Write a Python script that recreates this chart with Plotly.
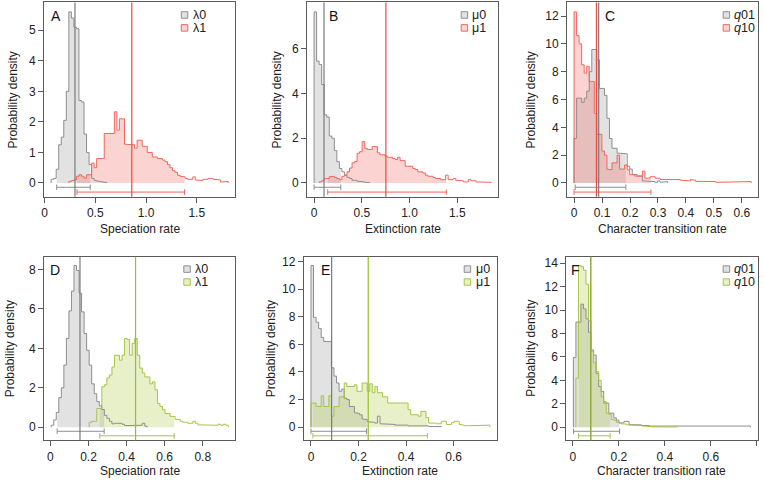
import plotly.graph_objects as go

W, H = 765, 480
N_BINS = 70

# ---------------- data ----------------
# Panel A: speciation rate, states 0/1 (top row)
A_breaks = [0.065, 1.81]
A_lambda0 = [0.12, 0.15, 0.45, 1.25, 1.5, 2.05, 3.0, 5.6, 5.4, 5.1, 5.05, 2.7, 2.65, 1.6, 1.0,
             0.6, 0.15, 0.08, 0.06, 0.05, 0.03, 0.02]
A_lambda1 = [0, 0, 0, 0, 0, 0, 0, 0.05, 0.08, 0.1, 0.22, 0.27, 0.22, 0.16, 0.27, 0.27, 0.65, 0.5,
             0.8, 0.8, 0.8, 1.62, 1.62, 1.62, 1.62, 2.33, 1.73, 2.1, 2.1, 1.27, 1.27, 1.25, 1.25,
             1.14, 1.4, 1.4, 1.2, 1.2, 1.0, 1.0, 0.85, 0.85, 0.8, 0.8, 0.75, 0.7, 0.6, 0.5, 0.4,
             0.35, 0.25, 0.22, 0.2, 0.15, 0.12, 0.12, 0.2, 0.1, 0.1, 0.08, 0.12, 0.12, 0.15, 0.15,
             0.12, 0.1, 0.1, 0.03, 0.05, 0.05]
A_means = [0.30, 0.86]
A_ci = [[0.12, 0.45], [0.32, 1.38]]
A_names = ["λ0", "λ1"]
A_xticks = [0, 0.5, 1.0, 1.5]
A_xticklabels = ["0", "0.5", "1.0", "1.5"]
A_yticks = [0, 1, 2, 3, 4, 5]
A_xlabel = "Speciation rate"

# Panel B: extinction rate (top row)
B_breaks = [0.0, 1.855]
B_mu0 = [7.65, 5.45, 5.3, 4.4, 3.05, 2.95, 2.1, 2.0, 1.45, 0.95, 0.65, 0.5, 0.35, 0.25, 0.2,
         0.12, 0.12, 0.08, 0.06, 0.05, 0.03, 0.02]
B_mu1 = [0, 0, 0.05, 0.1, 0.2, 0.2, 0.28, 0.3, 0.25, 0.2, 0.15, 0.3, 0.35, 0.5, 0.67, 0.9, 0.96,
         1.33, 1.4, 1.85, 1.55, 1.5, 1.5, 1.63, 1.63, 1.35, 1.26, 1.26, 1.2, 1.15, 1.15, 1.1,
         1.05, 1.15, 1.0, 1.0, 0.75, 0.75, 0.75, 0.65, 0.6, 0.5, 0.5, 0.45, 0.35, 0.3, 0.3, 0.25,
         0.2, 0.2, 0.15, 0.15, 0.35, 0.15, 0.15, 0.2, 0.12, 0.12, 0.1, 0.05, 0.05, 0.15, 0.1,
         0.1, 0.05, 0.05, 0.05, 0.03, 0.02, 0.03]
B_means = [0.104, 0.752]
B_ci = [[0.0, 0.28], [0.143, 1.385]]
B_names = ["μ0", "μ1"]
B_xticks = [0, 0.5, 1.0, 1.5]
B_xticklabels = ["0", "0.5", "1.0", "1.5"]
B_yticks = [0, 2, 4, 6]
B_xlabel = "Extinction rate"

# Panel C: character transition rate (top row)
C_breaks = [0.0, 0.633]
C_q01 = [3.2, 6.1, 6.1, 5.8, 6.1, 6.6, 8.0, 9.6, 9.6, 8.85, 6.8, 6.8, 6.3, 4.65, 3.2, 2.5, 2.5,
         2.15, 2.1, 2.1, 2.1, 1.2, 1.0, 0.6, 0.6, 0.5, 0.5, 0.15, 0.1, 0.15, 0.1, 0.1, 0.05,
         0.15, 0.05, 0.1, 0.1]
C_q10 = [12.3, 10.6, 10.0, 8.5, 7.9, 8.4, 7.3, 7.3, 5.0, 3.5,
         3.5, 2.3, 2.0, 1.0, 0.95, 1.45, 1.45, 2.0, 1.0, 1.0,
         1.3, 0.95, 0.6, 0.6, 0.5, 0.5, 0.5, 0.85, 0.35, 0.35,
         0.45, 0.45, 0.35, 0.35, 0.25, 0.25, 0.25, 0.3, 0.3, 0.3,
         0.3, 0.25, 0.2, 0.2, 0.15, 0.15, 0.25, 0.2, 0.12, 0.12,
         0.12, 0.1, 0.12, 0.1, 0.15, 0.1, 0.05, 0.05, 0.05, 0.05,
         0.05, 0.05, 0.05, 0.05, 0.05, 0.1, 0.05, 0.05, 0.1, 0.1]
C_means = [0.088, 0.080]
C_ci = [[0.004, 0.185], [0.0, 0.275]]
C_names = ["<i>q</i>01", "<i>q</i>10"]
C_xticks = [0, 0.1, 0.2, 0.3, 0.4, 0.5, 0.6]
C_xticklabels = ["0", "0.1", "0.2", "0.3", "0.4", "0.5", "0.6"]
C_yticks = [0, 2, 4, 6, 8, 10, 12]
C_xlabel = "Character transition rate"

# Panel D: speciation rate (bottom row)
D_breaks = [0.004, 0.934]
D_lambda0 = [0.1, 0.37, 0.75, 1.5, 2.0, 3.15, 4.5, 5.9, 6.9, 8.2, 7.95, 6.8, 5.85, 4.75, 3.9,
             3.15, 2.2, 1.7, 1.3, 1.08, 0.9, 0.6, 0.45, 0.3, 0.17, 0.2, 0.2, 0.2, 0.15, 0.08,
             0.08, 0.1, 0.1, 0.08, 0.1, 0.1, 0.2, 0.05]
D_lambda1 = [0, 0, 0, 0, 0, 0, 0, 0, 0, 0, 0, 0, 0, 0, 0,
             0.25, 0.3, 0.3, 0.95, 0.95, 2.05, 2.15, 2.5, 2.65, 3.05, 3.65, 3.65, 3.4, 3.65,
             4.5, 4.45, 3.65, 4.25, 4.5, 3.65, 3.0, 2.75, 2.55, 2.55, 2.2, 2.3, 1.9, 1.2, 1.05,
             0.88, 0.7, 0.7, 0.55, 0.55, 0.4, 0.4, 0.3, 0.25, 0.25, 0.2, 0.2, 0.3, 0.2, 0.12,
             0.12, 0.12, 0.1, 0.1, 0.1, 0.1, 0.1, 0.15, 0.1, 0.15, 0.1]
D_means = [0.155, 0.447]
D_ci = [[0.035, 0.282], [0.259, 0.650]]
D_names = ["λ0", "λ1"]
D_xticks = [0, 0.2, 0.4, 0.6, 0.8]
D_xticklabels = ["0", "0.2", "0.4", "0.6", "0.8"]
D_yticks = [0, 2, 4, 6, 8]
D_xlabel = "Speciation rate"

# Panel E: extinction rate (bottom row)
E_breaks = [0.0, 0.753]
E_mu0 = [11.7, 7.95, 7.6, 7.15, 6.5, 6.2, 6.2, 6.2, 4.3, 3.7,
         3.2, 2.6, 2.75, 2.1, 2.0, 1.5, 1.5, 1.05, 1.0, 0.9,
         0.6, 0.55, 0.4, 0.35, 0.35, 0.3, 0.8, 0.25, 0.2, 0.25,
         0.2, 0.2, 0.2, 0.15, 0.2, 0.15, 0.15, 0.15, 0.1, 0.15,
         0.1, 0.15, 0.1, 0.1, 0.1, 0.1, 0.05, 0.1, 0.05, 0.05, 0.05]
E_mu1 = [1.75, 1.75, 1.5, 1.5, 2.27, 1.5, 1.5, 2.27, 0.8, 1.5,
         1.5, 2.2, 2.2, 3.2, 2.95, 2.95, 2.95, 3.07, 2.6, 2.6,
         3.2, 3.2, 2.6, 3.14, 2.5, 2.95, 2.5, 2.5, 2.2, 2.2,
         1.75, 1.75, 1.75, 1.75, 1.75, 1.75, 1.75, 1.75, 1.27, 0.9,
         0.9, 0.9, 0.8, 1.15, 1.15, 0.7, 0.3, 0.35, 0.3, 0.25,
         0.25, 0.43, 0.43, 0.2, 0.2, 0.35, 0.43, 0.43, 0.2, 0.15,
         0.1, 0.1, 0.1, 0.1, 0.15, 0.15, 0.1, 0.1, 0.1, 0.15]
E_means = [0.087, 0.241]
E_ci = [[0.0, 0.234], [0.008, 0.49]]
E_names = ["μ0", "μ1"]
E_xticks = [0, 0.2, 0.4, 0.6]
E_xticklabels = ["0", "0.2", "0.4", "0.6"]
E_yticks = [0, 2, 4, 6, 8, 10, 12]
E_xlabel = "Extinction rate"

# Panel F: character transition rate (bottom row)
F_breaks = [0.002, 0.772]
F_q01 = [5.95, 8.97, 8.97, 10.5, 10.1, 9.25, 8.1, 6.6, 6.15, 4.6,
         3.47, 3.05, 2.06, 2.06, 1.2, 1.2, 0.8, 0.6, 0.37, 0.37,
         0.5, 0.5, 0.22, 0.22, 0.22, 0.2, 0.2, 0.15, 0.2, 0.15,
         0.1, 0.1, 0.1, 0.1, 0.1, 0.1, 0.1, 0.05, 0.1, 0.1,
         0.05, 0.05, 0.05, 0.1, 0.1, 0.05, 0.05, 0.1, 0.05, 0.1,
         0.05, 0.05, 0.05, 0.1, 0.05, 0.05, 0.1, 0.05, 0.05, 0.05,
         0.05, 0.05, 0.05, 0.05, 0.05, 0.05, 0.05, 0.05, 0.05, 0.1]
F_q10 = [0, 4.18, 13.8, 13.7, 13.4, 12.2, 9.1, 6.45, 5.5, 4.75,
         4.0, 2.6, 2.2, 1.2, 1.1, 0.65, 0.6, 0.42, 0.35, 0.28,
         0.28, 0.2, 0.15, 0.14, 0.14, 0.14, 0.14, 0.11, 0.11, 0.11,
         0.05, 0.03, 0.03, 0.03, 0.03, 0.03, 0.03, 0.02, 0.02, 0.02, 0.02]
F_means = [0.077, 0.078]
F_ci = [[0.003, 0.203], [0.025, 0.162]]
F_names = ["<i>q</i>01", "<i>q</i>10"]
F_xticks = [0, 0.2, 0.4, 0.6, 0.8]
F_xticklabels = ["0", "0.2", "0.4", "0.6", "0.8"]
F_yticks = [0, 2, 4, 6, 8, 10, 12, 14]
F_xlabel = "Character transition rate"

YLABEL = "Probability density"

# ---------------- styles / layout ----------------
FONT = "Liberation Sans, Arial, Helvetica, sans-serif"
TXT = "#222222"
FRAME = "#5a5a5a"
GRAY = dict(line="#8e8e8e", mean="#7a7a7a", fill="rgba(160,160,160,0.30)")
RED = dict(line="#f0675f", mean="#ea4b42", fill="rgba(240,100,90,0.28)")
GREEN = dict(line="#a6c544", mean="#9cbe2e", fill="rgba(170,200,60,0.28)")

# pixel geometry: frame (left, top, right, bottom), y-title x, x-title y,
# panel-letter left x, legend box left x, legend text left x
GEOM = {
    "A": dict(frame=(41.2, 0.5, 233.2, 195.5), ylab_x=10, xlab_y=228, letter_x=46, box_x=179, text_x=189.5),
    "B": dict(frame=(305.2, 0.5, 497.2, 195.5), ylab_x=275, xlab_y=228, letter_x=325, box_x=460, text_x=470),
    "C": dict(frame=(566.2, 0.5, 758.2, 195.5), ylab_x=530, xlab_y=228, letter_x=602, box_x=723, text_x=733),
    "D": dict(frame=(41.3, 255.7, 233.3, 440.0), ylab_x=7, xlab_y=470.5, letter_x=45.5, box_x=181.5, text_x=191.5),
    "E": dict(frame=(302.0, 255.7, 496.0, 440.0), ylab_x=269, xlab_y=470.5, letter_x=317, box_x=463, text_x=473.5),
    "F": dict(frame=(565.5, 255.7, 757.5, 440.0), ylab_x=530.5, xlab_y=471, letter_x=568, box_x=723, text_x=733),
}
CI_LEVELS = [0.025, 0.053]      # fraction of max density, below zero
Y_PAD = (0.08, 0.055)           # bottom / top padding as fraction of max density
X_PAD = 0.04
LEG_FONT = 12.5
LEG_ROW = 13

panels = [
    ("A", A_breaks, [A_lambda0, A_lambda1], A_means, A_ci, A_names, [GRAY, RED], A_xticks, A_xticklabels, A_yticks, A_xlabel),
    ("B", B_breaks, [B_mu0, B_mu1], B_means, B_ci, B_names, [GRAY, RED], B_xticks, B_xticklabels, B_yticks, B_xlabel),
    ("C", C_breaks, [C_q01, C_q10], C_means, C_ci, C_names, [GRAY, RED], C_xticks, C_xticklabels, C_yticks, C_xlabel),
    ("D", D_breaks, [D_lambda0, D_lambda1], D_means, D_ci, D_names, [GRAY, GREEN], D_xticks, D_xticklabels, D_yticks, D_xlabel),
    ("E", E_breaks, [E_mu0, E_mu1], E_means, E_ci, E_names, [GRAY, GREEN], E_xticks, E_xticklabels, E_yticks, E_xlabel),
    ("F", F_breaks, [F_q01, F_q10], F_means, F_ci, F_names, [GRAY, GREEN], F_xticks, F_xticklabels, F_yticks, F_xlabel),
]


def px_x(px):
    return px / W


def px_y(py):
    return 1 - py / H


def padded(d):
    return list(d) + [0.0] * (N_BINS - len(d))


def edges_of(br):
    w = (br[1] - br[0]) / N_BINS
    return [br[0] + i * w for i in range(N_BINS + 1)]


def outline(edges, d):
    nz = [i for i, v in enumerate(d) if v > 0]
    i0, i1 = nz[0], nz[-1]
    xs, ys = [edges[i0]], [0.0]
    for i in range(i0, i1 + 1):
        xs += [edges[i], edges[i + 1]]
        ys += [d[i], d[i]]
    xs.append(edges[i1 + 1])
    ys.append(0.0)
    return xs, ys


def ci_polygon(edges, d, lo, hi):
    xs, ys = [lo], [0.0]
    for i in range(len(d)):
        a, b = max(edges[i], lo), min(edges[i + 1], hi)
        if b > a:
            xs += [a, b]
            ys += [d[i], d[i]]
    xs += [hi, lo]
    ys += [0.0, 0.0]
    return xs, ys


fig = go.Figure()
layout = dict(width=W, height=H, margin=dict(l=0, r=0, t=0, b=0),
              paper_bgcolor="white", plot_bgcolor="white", showlegend=False,
              font=dict(family=FONT, size=12, color=TXT))
shapes, annotations = [], []

for n, (key, br, series, means, cis, names, cols, xt, xtl, yt, xlab) in enumerate(panels, start=1):
    g = GEOM[key]
    L, T, R, B = g["frame"]
    xa, ya = ("x%d" % n if n > 1 else "x"), ("y%d" % n if n > 1 else "y")
    edges = edges_of(br)
    dens = [padded(s) for s in series]
    ymax = max(max(d) for d in dens)
    span = br[1] - br[0]
    xr = [br[0] - X_PAD * span, br[1] + X_PAD * span]
    yr = [-Y_PAD[0] * ymax, (1 + Y_PAD[1]) * ymax]

    for d, (lo, hi), c in zip(dens, cis, cols):
        px_, py_ = ci_polygon(edges, d, lo, hi)
        fig.add_trace(go.Scatter(x=px_, y=py_, xaxis=xa, yaxis=ya, mode="lines", fill="toself",
                                 fillcolor=c["fill"], line=dict(width=0), hoverinfo="skip"))
    for d, c in zip(dens, cols):
        ox, oy = outline(edges, d)
        fig.add_trace(go.Scatter(x=ox, y=oy, xaxis=xa, yaxis=ya, mode="lines",
                                 line=dict(color=c["line"], width=1), hoverinfo="skip"))
    for (lo, hi), lev, c in zip(cis, CI_LEVELS, cols):
        fig.add_trace(go.Scatter(x=[lo, hi], y=[-lev * ymax] * 2, xaxis=xa, yaxis=ya,
                                 mode="lines+markers", line=dict(color=c["line"], width=1),
                                 marker=dict(symbol="line-ns-open", size=4,
                                             line=dict(color=c["line"], width=1)),
                                 hoverinfo="skip"))
    for m, c in zip(means, cols):
        shapes.append(dict(type="line", xref=xa, yref=ya + " domain", x0=m, x1=m, y0=0, y1=1,
                           line=dict(color=c["mean"], width=1.2), layer="above"))

    axis_common = dict(showline=True, mirror=True, linecolor=FRAME, linewidth=1,
                       ticks="outside", ticklen=5, tickwidth=1, tickcolor=FRAME,
                       showgrid=False, zeroline=False, tickfont=dict(size=12, color=TXT, family=FONT))
    layout["xaxis%d" % n if n > 1 else "xaxis"] = dict(
        domain=[px_x(L), px_x(R)], anchor=ya, range=xr, tickmode="array",
        tickvals=xt, ticktext=xtl, **axis_common)
    layout["yaxis%d" % n if n > 1 else "yaxis"] = dict(
        domain=[px_y(B), px_y(T)], anchor=xa, range=yr, tickmode="array",
        tickvals=yt, ticktext=[str(v) for v in yt], **axis_common)

    # axis titles
    annotations.append(dict(text=YLABEL, xref="paper", yref="paper", x=px_x(g["ylab_x"]),
                            y=px_y((T + B) / 2), textangle=-90, showarrow=False,
                            xanchor="center", yanchor="middle", font=dict(size=12, color=TXT)))
    annotations.append(dict(text=xlab, xref="paper", yref="paper", x=px_x((L + R) / 2),
                            y=px_y(g["xlab_y"]), showarrow=False, xanchor="center",
                            yanchor="middle", font=dict(size=12, color=TXT)))
    # panel letter
    annotations.append(dict(text=key, xref="paper", yref="paper", x=px_x(g["letter_x"]),
                            y=px_y(T + 13.5), showarrow=False, xanchor="left", yanchor="middle",
                            font=dict(size=14, color="#111111")))
    # legend
    for r, (nm, c) in enumerate(zip(names, cols)):
        cy = T + 12.5 + LEG_ROW * r
        shapes.append(dict(type="rect", xref="paper", yref="paper",
                           x0=px_x(g["box_x"]), x1=px_x(g["box_x"] + 6.5),
                           y0=px_y(cy + 3.25), y1=px_y(cy - 3.25),
                           fillcolor=c["fill"], line=dict(color=c["line"], width=1)))
        annotations.append(dict(text=nm, xref="paper", yref="paper", x=px_x(g["text_x"]),
                                y=px_y(cy), showarrow=False, xanchor="left", yanchor="middle",
                                borderpad=0, font=dict(size=LEG_FONT, color=TXT)))

layout["shapes"] = shapes
layout["annotations"] = annotations
fig.update_layout(**layout)
fig.write_html("out.html", config={"displayModeBar": False, "staticPlot": True},
               post_script="document.body.style.margin='0';document.body.style.padding='0';")
